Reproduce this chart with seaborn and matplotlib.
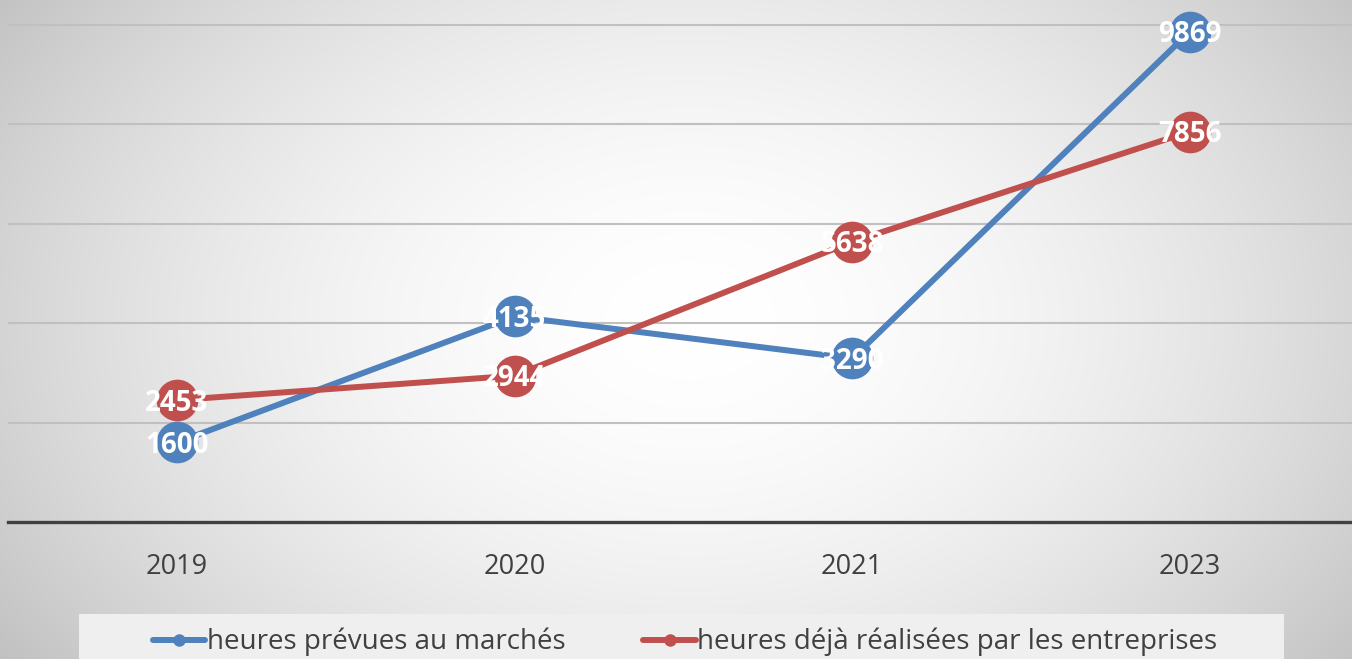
import numpy as np
import pandas as pd
import matplotlib
matplotlib.use('Agg')
import matplotlib.pyplot as plt
import seaborn as sns
from matplotlib.lines import Line2D
from matplotlib.patches import Rectangle

# ── Data ──────────────────────────────────────────────────────────
years = ["2019", "2020", "2021", "2023"]
prevues = [1600, 4135, 3290, 9869]
realisees = [2453, 2944, 5638, 7856]
series_names = ["heures prévues au marchés",
                "heures déjà réalisées par les entreprises"]
colors = ["#4F81BD", "#C0504D"]

df = pd.DataFrame({
    "year": years * 2,
    "hours": prevues + realisees,
    "series": [series_names[0]] * len(years) + [series_names[1]] * len(years),
})

sns.set_theme(style="white")
plt.rcParams['font.family'] = ['Open Sans', 'DejaVu Sans']

W, H = 1352, 659
fig = plt.figure(figsize=(W / 100, H / 100), dpi=100)

# ── Radial gradient background ───────────────────────────────────
bg = fig.add_axes([0, 0, 1, 1], zorder=0)
yy, xx = np.mgrid[0:H, 0:W]
r = np.sqrt(((xx - 690) / 780) ** 2 + ((yy - 320) / 540) ** 2)
shade = 1.0 - 0.21 * np.clip(r, 0, 1.2) ** 1.8
bg.imshow(np.dstack([shade] * 3), aspect='auto', extent=[0, 1, 0, 1],
          interpolation='bilinear')
bg.axis('off')

# legend strip
fig.patches.append(Rectangle((79 / W, 0), (1284 - 79) / W, (659 - 614) / H,
                             transform=fig.transFigure, facecolor="#efefef",
                             edgecolor="none", zorder=1))

# ── Main axes ─────────────────────────────────────────────────────
ax = fig.add_axes([8 / W, (H - 522) / H, (W - 8) / W, 522 / H], zorder=2)
ax.patch.set_alpha(0)

sns.lineplot(data=df, x="year", y="hours", hue="series", palette=colors,
             marker="o", markersize=30, markeredgewidth=0, linewidth=4.3,
             legend=False, ax=ax, zorder=3)

for vals, c in zip([prevues, realisees], colors):
    for i, v in enumerate(vals):
        ax.text(i, v - 60, str(v), ha="center", va="center", color="white",
                fontsize=20, fontweight="bold", zorder=5)

ax.set_xlim(-0.5, 3.48)
ax.set_ylim(0, 10503)
ax.set_yticks([2000, 4000, 6000, 8000, 10000])
ax.yaxis.grid(True, color="#c0c0c0", linewidth=1.5)
ax.set_axisbelow(True)
ax.tick_params(axis='y', left=False, labelleft=False)
ax.tick_params(axis='x', bottom=False, labelsize=19.5, labelcolor="#404040",
               pad=16)
ax.set_xlabel("")
ax.set_ylabel("")
for s in ["top", "right", "left"]:
    ax.spines[s].set_visible(False)
ax.spines["bottom"].set_color("#404040")
ax.spines["bottom"].set_linewidth(2.4)

# ── Legend ────────────────────────────────────────────────────────
handles = [Line2D([0], [0], color=c, linewidth=4.3, marker="o",
                  markersize=9, markeredgewidth=0) for c in colors]
leg = fig.legend(handles, series_names, loc="center",
                 bbox_to_anchor=(685 / W, (H - 642) / H), ncol=2,
                 frameon=False, fontsize=20, handlelength=1.9,
                 handletextpad=0.05, columnspacing=2.8)
for t in leg.get_texts():
    t.set_color("#404040")

fig.savefig("out.png", dpi=100)
